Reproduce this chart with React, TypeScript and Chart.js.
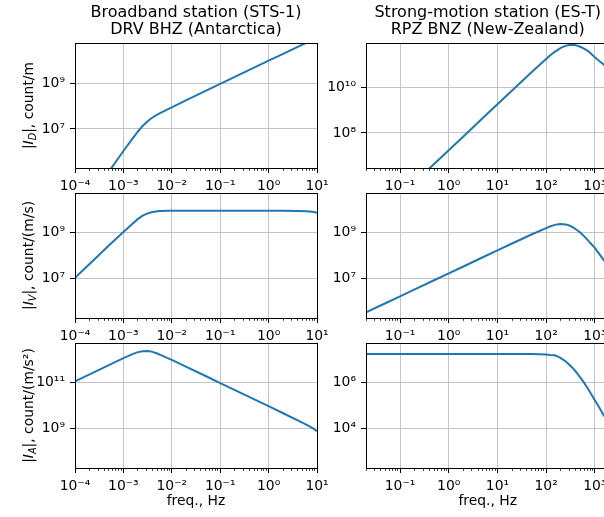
import { useEffect, useRef } from 'react';
import { Chart, registerables } from 'chart.js';

Chart.register(...registerables);
Chart.defaults.font.family = '"DejaVu Sans"';
Chart.defaults.color = '#000';

// ---------- data ----------
const FREQ_BB = [1e-4, 2e-4, 5e-4, 1e-3, 1.5e-3, 2e-3, 2.5e-3, 3e-3, 3.5e-3, 4e-3, 5e-3, 6e-3, 8e-3, 1e-2, 2e-2, 5e-2, 0.1, 1, 2, 4, 6, 8, 10];
const BB_DISP = [1.10e3, 8.71e3, 1.38e5, 1.10e6, 3.55e6, 7.76e6, 1.35e7, 1.95e7, 2.57e7, 3.16e7, 4.17e7, 5.13e7, 6.92e7, 8.71e7, 1.78e8, 4.57e8, 9.12e8, 9.33e9, 1.86e10, 3.72e10, 5.62e10, 7.41e10, 8.91e10];
const BB_VEL = [1.07e7, 4.27e7, 2.69e8, 1.05e9, 2.29e9, 3.89e9, 5.37e9, 6.46e9, 7.24e9, 7.76e9, 8.32e9, 8.51e9, 8.71e9, 8.71e9, 8.71e9, 8.71e9, 8.71e9, 8.71e9, 8.71e9, 8.61e9, 8.41e9, 7.94e9, 7.24e9];
const BB_ACC = [1.12e11, 2.24e11, 5.62e11, 1.15e12, 1.66e12, 2.09e12, 2.29e12, 2.34e12, 2.29e12, 2.14e12, 1.82e12, 1.55e12, 1.17e12, 9.55e11, 4.79e11, 1.91e11, 9.33e10, 9.33e9, 4.57e9, 2.24e9, 1.48e9, 1.05e9, 7.59e8];

const FREQ_SM = [0.02, 0.05, 0.1, 0.2, 0.5, 1, 2, 5, 10, 20, 50, 100, 120, 150, 180, 200, 250, 300, 350, 400, 500, 600, 700, 800, 1000, 1200, 1500, 2000];
const SM_DISP = [7.08e3, 4.47e4, 1.78e5, 7.08e5, 4.47e6, 1.78e7, 7.08e7, 4.47e8, 1.78e9, 7.08e9, 4.37e10, 1.66e11, 2.34e11, 3.39e11, 4.37e11, 5.01e11, 6.17e11, 6.76e11, 6.92e11, 6.61e11, 5.62e11, 4.68e11, 3.80e11, 3.09e11, 1.95e11, 1.41e11, 9.77e10, 5.62e10];
const SM_VEL = [3.31e5, 8.32e5, 1.66e6, 3.31e6, 8.32e6, 1.66e7, 3.31e7, 8.32e7, 1.66e8, 3.31e8, 8.13e8, 1.55e9, 1.82e9, 2.14e9, 2.29e9, 2.34e9, 2.24e9, 2.00e9, 1.70e9, 1.41e9, 1.00e9, 6.92e8, 4.90e8, 3.55e8, 2.14e8, 1.26e8, 6.61e7, 2.82e7];
const SM_ACC = [1.72e7, 1.72e7, 1.72e7, 1.72e7, 1.72e7, 1.72e7, 1.72e7, 1.72e7, 1.72e7, 1.72e7, 1.72e7, 1.66e7, 1.58e7, 1.51e7, 1.29e7, 1.15e7, 8.32e6, 5.89e6, 4.27e6, 3.09e6, 1.66e6, 9.77e5, 5.89e5, 3.72e5, 1.70e5, 8.91e4, 3.98e4, 1.51e4];

const TITLE_BB = ['Broadband station (STS-1)', 'DRV BHZ (Antarctica)'];
const TITLE_SM = ['Strong-motion station (ES-T)', 'RPZ BNZ (New-Zealand)'];
const X_LABEL = 'freq., Hz';
const Y_LABEL_SUBS = ['D', 'V', 'A'];
const Y_LABEL_UNITS = ['count/m', 'count/(m/s)', 'count/(m/s²)'];

const X_RANGE_BB = [1e-4, 10];
const X_RANGE_SM = [0.02, 2000];
const X_TICKS_BB = [1e-4, 1e-3, 1e-2, 1e-1, 1, 10];
const X_TICKS_SM = [0.1, 1, 10, 100, 1000];

const Y_RANGE_DISP_BB = [2.0e5, 5.5e10];
const Y_RANGE_DISP_SM = [3.0e6, 8.2e11];
const Y_RANGE_VEL_BB = [1.9e5, 5.2e10];
const Y_RANGE_VEL_SM = [1.9e5, 5.2e10];
const Y_RANGE_ACC_BB = [1.9e7, 5.2e12];
const Y_RANGE_ACC_SM = [1.9e2, 5.2e7];
const Y_TICKS_DISP_BB = [1e7, 1e9];
const Y_TICKS_DISP_SM = [1e8, 1e10];
const Y_TICKS_VEL_BB = [1e7, 1e9];
const Y_TICKS_VEL_SM = [1e7, 1e9];
const Y_TICKS_ACC_BB = [1e9, 1e11];
const Y_TICKS_ACC_SM = [1e4, 1e6];

// ---------- helpers ----------
const FONT = '"DejaVu Sans"';
const FS = 13.9;
const SUP: Record<string, string> = { '0': '⁰', '1': '¹', '2': '²', '3': '³', '4': '⁴', '5': '⁵', '6': '⁶', '7': '⁷', '8': '⁸', '9': '⁹', '-': '⁻' };
const pow10Label = (v: number) =>
  '10' + String(Math.round(Math.log10(v))).split('').map((c) => SUP[c] || c).join('');

function minorTicks(min: number, max: number) {
  const out: number[] = [];
  const d0 = Math.floor(Math.log10(min));
  const d1 = Math.ceil(Math.log10(max));
  for (let d = d0; d <= d1; d++) {
    for (let k = 2; k <= 9; k++) {
      const v = k * Math.pow(10, d);
      if (v >= min * 0.9999 && v <= max * 1.0001) out.push(v);
    }
  }
  return out;
}

const al = (p: number) => Math.round(p - 0.5) + 0.5;

function makeDecor(minor: number[], sub?: string, unit?: string, labelX?: number) {
  return {
    id: 'mplDecor',
    afterDraw(chart: any) {
      const { ctx, chartArea: ca, scales } = chart;
      const xs = scales.x;
      ctx.save();
      ctx.strokeStyle = '#000';
      ctx.lineWidth = 0.8;
      ctx.beginPath();
      for (const v of minor) {
        const px = al(xs.getPixelForValue(v));
        ctx.moveTo(px, ca.bottom);
        ctx.lineTo(px, ca.bottom + 2.8);
      }
      ctx.stroke();
      ctx.lineWidth = 1;
      const l = al(ca.left), t = al(ca.top), r = al(ca.right), b = al(ca.bottom);
      ctx.strokeRect(l, t, r - l, b - t);
      if (sub && unit && labelX !== undefined) {
        ctx.translate(labelX, (ca.top + ca.bottom) / 2);
        ctx.rotate(-Math.PI / 2);
        ctx.fillStyle = '#000';
        ctx.textBaseline = 'alphabetic';
        const segs = [
          { t: '|', f: `${FS}px ${FONT}`, dy: 0 },
          { t: 'I', f: `italic ${FS}px ${FONT}`, dy: 0 },
          { t: sub, f: `italic ${FS * 0.7}px ${FONT}`, dy: FS * 0.22 },
          { t: '|, ' + unit, f: `${FS}px ${FONT}`, dy: 0 },
        ];
        let total = 0;
        const widths = segs.map((s) => {
          ctx.font = s.f;
          const w = ctx.measureText(s.t).width;
          total += w;
          return w;
        });
        let x = -total / 2;
        segs.forEach((s, i) => {
          ctx.font = s.f;
          ctx.fillText(s.t, x, s.dy);
          x += widths[i];
        });
      }
      ctx.restore();
    },
  };
}

type PanelProps = {
  left: number; top: number; width: number; height: number;
  freq: number[]; values: number[];
  xRange: number[]; yRange: number[]; xTicks: number[]; yTicks: number[];
  yAxisW: number; padRight: number;
  title?: string[]; sub?: string; unit?: string; xTitle?: string;
};

const AREA_TOP = 43;
const AREA_H = 125;

function Panel(p: PanelProps) {
  const ref = useRef<HTMLCanvasElement>(null);
  useEffect(() => {
    const xAxisH = p.height - AREA_TOP - AREA_H;
    const gridCommon = { color: '#c4c4c4', lineWidth: 1, tickColor: '#000', tickLength: 5, tickWidth: 1, drawTicks: true };
    const tickCommon = { font: { family: FONT, size: FS }, color: '#000', padding: 5, autoSkip: false, maxRotation: 0, minRotation: 0, callback: (v: any) => pow10Label(Number(v)) };
    const chart = new Chart(ref.current as HTMLCanvasElement, {
      type: 'line',
      data: {
        datasets: [{
          data: p.freq.map((f, i) => ({ x: f, y: p.values[i] })),
          borderColor: '#1f77b4', borderWidth: 2, pointRadius: 0, fill: false, tension: 0, clip: 0,
        }],
      },
      options: {
        animation: false, responsive: false, maintainAspectRatio: false, events: [],
        layout: { padding: { left: 0, right: p.padRight, top: p.title ? 0 : AREA_TOP, bottom: 0 } },
        plugins: {
          legend: { display: false },
          tooltip: { enabled: false },
          title: p.title
            ? { display: true, text: p.title, fullSize: false, color: '#000', font: { family: FONT, size: 16, weight: 'normal', lineHeight: 1.08 }, padding: { top: 3.75, bottom: 4.7 } }
            : { display: false },
        },
        scales: {
          x: {
            type: 'logarithmic', min: p.xRange[0], max: p.xRange[1],
            afterBuildTicks: (s: any) => { s.ticks = p.xTicks.map((v) => ({ value: v })); },
            afterFit: (s: any) => { s.height = xAxisH; },
            ticks: tickCommon, grid: gridCommon, border: { display: false },
            title: p.xTitle
              ? { display: true, text: p.xTitle, color: '#000', font: { family: FONT, size: FS, lineHeight: 1.2 }, padding: { top: 0, bottom: 7.4 } }
              : { display: false },
          },
          y: {
            type: 'logarithmic', min: p.yRange[0], max: p.yRange[1],
            afterBuildTicks: (s: any) => { s.ticks = p.yTicks.map((v) => ({ value: v })); },
            afterFit: (s: any) => { s.width = p.yAxisW; },
            ticks: tickCommon, grid: gridCommon, border: { display: false },
          },
        },
      } as any,
      plugins: [makeDecor(minorTicks(p.xRange[0], p.xRange[1]), p.sub, p.unit, p.sub ? 33.3 : undefined)],
    });
    return () => chart.destroy();
  }, []);
  return (
    <canvas
      ref={ref}
      width={p.width}
      height={p.height}
      style={{ position: 'absolute', left: p.left, top: p.top, width: p.width, height: p.height }}
    />
  );
}

export default function App() {
  const L = { left: 0, width: 345, yAxisW: 75, padRight: 28, xRange: X_RANGE_BB, xTicks: X_TICKS_BB, freq: FREQ_BB };
  const R = { left: 320, width: 300, yAxisW: 46, padRight: 10.5, xRange: X_RANGE_SM, xTicks: X_TICKS_SM, freq: FREQ_SM };
  return (
    <div style={{ position: 'fixed', left: 0, top: 0, width: 604, height: 517, overflow: 'hidden', background: '#fff' }}>
      <Panel {...L} top={0} height={190} values={BB_DISP} yRange={Y_RANGE_DISP_BB} yTicks={Y_TICKS_DISP_BB} title={TITLE_BB} sub={Y_LABEL_SUBS[0]} unit={Y_LABEL_UNITS[0]} />
      <Panel {...R} top={0} height={190} values={SM_DISP} yRange={Y_RANGE_DISP_SM} yTicks={Y_TICKS_DISP_SM} title={TITLE_SM} />
      <Panel {...L} top={150} height={190} values={BB_VEL} yRange={Y_RANGE_VEL_BB} yTicks={Y_TICKS_VEL_BB} sub={Y_LABEL_SUBS[1]} unit={Y_LABEL_UNITS[1]} />
      <Panel {...R} top={150} height={190} values={SM_VEL} yRange={Y_RANGE_VEL_SM} yTicks={Y_TICKS_VEL_SM} />
      <Panel {...L} top={300} height={217} values={BB_ACC} yRange={Y_RANGE_ACC_BB} yTicks={Y_TICKS_ACC_BB} sub={Y_LABEL_SUBS[2]} unit={Y_LABEL_UNITS[2]} xTitle={X_LABEL} />
      <Panel {...R} top={300} height={217} values={SM_ACC} yRange={Y_RANGE_ACC_SM} yTicks={Y_TICKS_ACC_SM} xTitle={X_LABEL} />
    </div>
  );
}
